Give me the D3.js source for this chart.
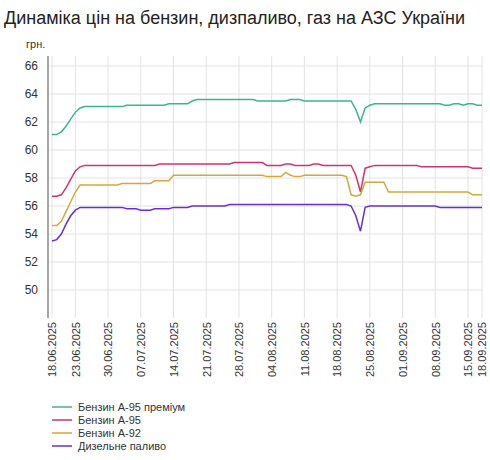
<!DOCTYPE html>
<html><head><meta charset="utf-8">
<script src="https://cdn.jsdelivr.net/npm/d3@7"></script>
<style>body{margin:0;background:#fff;font-family:"Liberation Sans",Arial,sans-serif}</style>
</head><body><svg id="c" width="490" height="460"></svg>
<script>
const startDate = "2025-06-18";
const tickLabels = ["18.06.2025","23.06.2025","30.06.2025","07.07.2025","14.07.2025","21.07.2025","28.07.2025","04.08.2025","11.08.2025","18.08.2025","25.08.2025","01.09.2025","08.09.2025","15.09.2025","18.09.2025"];
const yTicks = [50,52,54,56,58,60,62,64,66];
const seriesNames = ["Бензин А-95 преміум","Бензин А-95","Бензин А-92","Дизельне паливо"];
const colors = ["#3bb58f","#d1336f","#d2a83f","#6b2fd0"];
const premium = [61.1,61.1,61.3,61.7,62.2,62.7,63.0,63.1,
63.1,63.1,63.1,63.1,63.1,63.1,63.1,63.1,
63.2,63.2,63.2,63.2,63.2,63.2,63.2,63.2,63.2,
63.3,63.3,63.3,63.3,63.3,63.5,
63.6,63.6,63.6,63.6,63.6,63.6,63.6,63.6,63.6,63.6,63.6,63.6,63.6,
63.5,63.5,63.5,63.5,63.5,63.5,63.5,
63.6,63.6,63.6,63.5,63.5,63.5,63.5,63.5,63.5,63.5,63.5,63.5,63.5,
63.5,62.9,62.0,63.0,63.2,
63.3,63.3,63.3,63.3,63.3,63.3,63.3,63.3,63.3,63.3,63.3,63.3,63.3,63.3,63.3,63.2,63.2,63.3,63.3,63.2,63.3,63.3,63.2,63.2];
const a95 = [56.7,56.7,56.8,57.3,57.9,58.5,58.8,58.9,
58.9,58.9,58.9,58.9,58.9,58.9,58.9,58.9,58.9,58.9,58.9,58.9,58.9,58.9,58.9,
59.0,59.0,59.0,59.0,59.0,59.0,59.0,59.0,59.0,59.0,59.0,59.0,59.0,59.0,59.0,59.0,
59.1,59.1,59.1,59.1,59.1,59.1,59.1,
58.9,58.9,58.9,58.9,59.0,59.0,58.9,58.9,58.9,58.9,59.0,59.0,58.9,58.9,58.9,58.9,58.9,58.9,
58.9,58.2,57.0,58.7,58.8,
58.9,58.9,58.9,58.9,58.9,58.9,58.9,58.9,58.9,58.9,58.8,58.8,58.8,58.8,58.8,58.8,58.8,58.8,58.8,58.8,58.8,58.7,58.7,58.7];
const a92 = [54.6,54.6,54.9,55.6,56.3,57.0,57.5,57.5,
57.5,57.5,57.5,57.5,57.5,57.5,57.5,
57.6,57.6,57.6,57.6,57.6,57.6,57.6,
57.8,57.8,57.8,57.8,
58.2,58.2,58.2,58.2,58.2,58.2,58.2,58.2,58.2,58.2,58.2,58.2,58.2,58.2,58.2,58.2,58.2,58.2,58.2,58.2,
58.1,58.1,58.1,58.1,58.4,58.2,58.1,58.1,
58.2,58.2,58.2,58.2,58.2,58.2,58.2,58.2,58.2,58.1,
56.8,56.7,56.8,57.7,57.7,57.7,57.7,57.7,
57.0,57.0,57.0,57.0,57.0,57.0,57.0,57.0,57.0,57.0,57.0,57.0,57.0,57.0,57.0,57.0,57.0,57.0,56.8,56.8,56.8];
const diesel = [53.5,53.6,54.0,54.7,55.3,55.7,55.9,55.9,
55.9,55.9,55.9,55.9,55.9,55.9,55.9,55.9,
55.8,55.8,55.8,55.7,55.7,55.7,55.8,55.8,55.8,55.8,
55.9,55.9,55.9,55.9,
56.0,56.0,56.0,56.0,56.0,56.0,56.0,56.0,
56.1,56.1,56.1,56.1,56.1,56.1,56.1,56.1,56.1,56.1,56.1,56.1,56.1,56.1,56.1,56.1,56.1,56.1,56.1,56.1,56.1,56.1,56.1,56.1,56.1,56.1,
56.0,55.3,54.2,55.9,56.0,
56.0,56.0,56.0,56.0,56.0,56.0,56.0,56.0,56.0,56.0,56.0,56.0,56.0,56.0,55.9,55.9,55.9,55.9,55.9,55.9,55.9,55.9,55.9,55.9];
const series = [premium,a95,a92,diesel];

const parse = d3.timeParse("%d.%m.%Y");
const t0 = d3.timeParse("%Y-%m-%d")(startDate);
const dates = premium.map((_, i) => d3.timeDay.offset(t0, i));
const tickDates = tickLabels.map(parse);

const svg = d3.select("#c");
const x = d3.scaleTime().domain([dates[0], dates[dates.length-1]]).range([52, 482]);
const y = d3.scaleLinear().domain([48, 66]).range([318, 66]);

svg.append("text").attr("x",4).attr("y",24).attr("font-size",18).attr("fill","#222").text("Динаміка цін на бензин, дизпаливо, газ на АЗС України");
svg.append("text").attr("x",26).attr("y",48).attr("font-size",11).attr("fill","#333").text("грн.");

// grid
svg.append("g").selectAll("line").data(yTicks).join("line")
  .attr("x1",48).attr("x2",482).attr("y1",d=>y(d)).attr("y2",d=>y(d)).attr("stroke","#e2e2e2");
svg.append("g").selectAll("line").data(tickDates).join("line")
  .attr("x1",d=>x(d)).attr("x2",d=>x(d)).attr("y1",56).attr("y2",318).attr("stroke","#e2e2e2");

const ya = svg.append("g").attr("transform","translate(48,0)")
  .call(d3.axisLeft(y).tickValues(yTicks).tickSize(0).tickPadding(10));
ya.select(".domain").attr("stroke","#888").attr("stroke-width",1.5).attr("d","M0,56V318");
ya.selectAll("text").attr("font-size",12).attr("fill","#333").attr("font-family","Liberation Sans, Arial, sans-serif");

const xa = svg.append("g").attr("transform","translate(0,318)")
  .call(d3.axisBottom(x).tickValues(tickDates).tickFormat(d3.timeFormat("%d.%m.%Y")).tickSize(0));
xa.select(".domain").remove();
xa.selectAll("text").attr("font-size",11).attr("fill","#333").attr("font-family","Liberation Sans, Arial, sans-serif")
  .attr("text-anchor","end").attr("transform","rotate(-90)").attr("dx","-4").attr("dy","-0.35em").attr("x",0).attr("y",0);
xa.selectAll(".tick text").attr("transform","rotate(-90)").attr("dy","0.35em");

const line = d3.line().x((d,i)=>x(dates[i])).y(d=>y(d));
series.forEach((s,k)=>{
  svg.append("path").datum(s).attr("d",line).attr("fill","none").attr("stroke",colors[k]).attr("stroke-width",1.5);
});

const lg = svg.append("g");
seriesNames.forEach((n,k)=>{
  const yy = 407 + k*13;
  lg.append("line").attr("x1",52).attr("x2",72).attr("y1",yy).attr("y2",yy).attr("stroke",colors[k]).attr("stroke-width",1.5);
  lg.append("text").attr("x",78).attr("y",yy+4).attr("font-size",11).attr("fill","#333").text(n);
});
</script></body></html>
